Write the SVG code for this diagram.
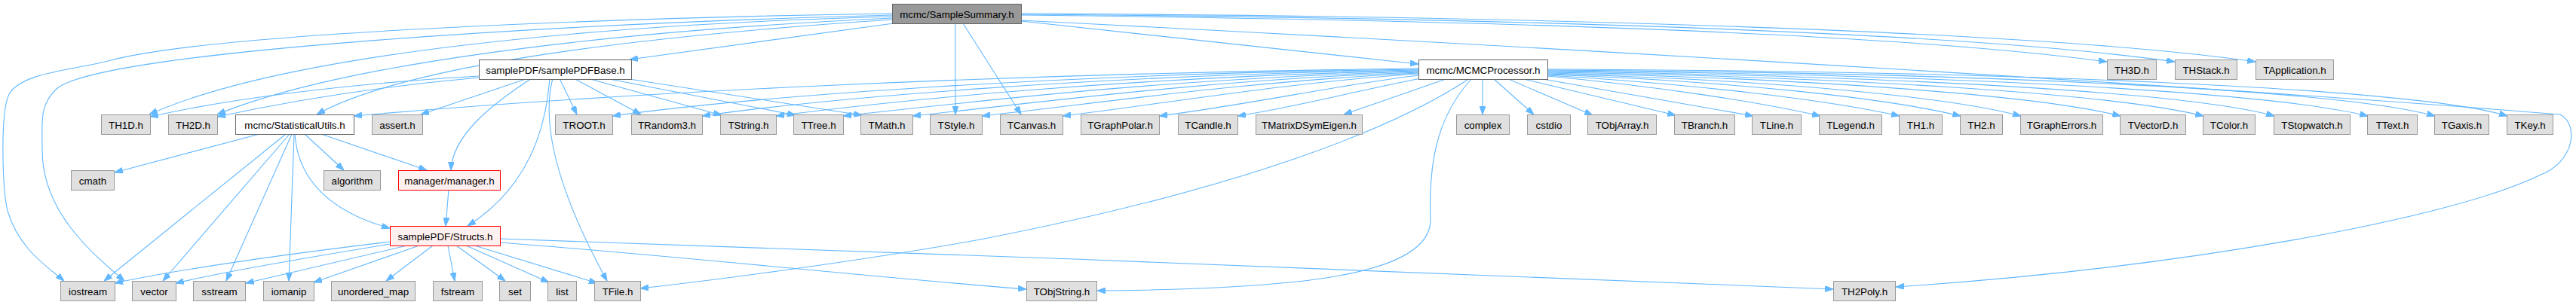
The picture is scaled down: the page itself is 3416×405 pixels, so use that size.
<svg xmlns="http://www.w3.org/2000/svg" width="3416" height="405" viewBox="0 0 3416 405">
<style>
rect{stroke-width:1}
.g rect{fill:#e0e0e0;stroke:#999999}
.w rect{fill:#ffffff;stroke:#666666}
.r rect{fill:#fff0f0;stroke:#ff0000}
.root rect{fill:#999999;stroke:#666666}
text{font-family:"Liberation Sans",Arial,Helvetica,sans-serif;font-size:13.33px;text-anchor:middle;fill:#000000}
#edges path{fill:none;stroke:#63b8ff;stroke-width:1.1;marker-end:url(#a)}
</style>
<defs>
<marker id="a" viewBox="0 0 11 8" markerWidth="11" markerHeight="8" refX="11" refY="4" orient="auto" markerUnits="userSpaceOnUse">
<path d="M0,0 L11,4 L0,8 Z" fill="#63b8ff" stroke="#63b8ff" stroke-width="1"/>
</marker>
</defs>
<rect x="0" y="0" width="3416" height="405" fill="#ffffff"/>
<g id="edges">
<!-- SampleSummary -->
<path d="M1183,18 C900,22 300,40 147,80 C100,93 30,95 12,125 C0,150 3,250 10,280 C25,330 60,352 85,373"/>
<path d="M1183,20 C700,33 130,70 75,118 C52,140 56,160 56,200 C56,280 120,335 165,373"/>
<path d="M1183,22 C800,32 380,70 198,152"/>
<path d="M1183,24 C800,42 450,85 288,152"/>
<path d="M1183,26 C850,48 540,85 420,152"/>
<path d="M1185,31 L835,79"/>
<path d="M1267,31 L1267,152"/>
<path d="M1277,31 L1354,152"/>
<path d="M1354,28 L1881,85"/>
<path d="M1354,20 C1900,26 2500,42 2794,82"/>
<path d="M1354,19 C2000,24 2600,42 2884,82"/>
<path d="M1354,18 C2000,21 2700,40 2991,82"/>
<path d="M1354,27 C2200,70 3000,120 3395,152 C3420,165 3415,215 3367,233 C3250,290 2900,355 2514,381"/>
<!-- samplePDFBase -->
<path d="M635,101 C450,112 300,132 199,155"/>
<path d="M635,103 C500,115 380,135 288,155"/>
<path d="M700,104 L558,152"/>
<path d="M705,104 C650,140 600,180 598,226"/>
<path d="M729,104 C722,200 680,262 620,300"/>
<path d="M733,104 C712,185 765,300 805,373"/>
<path d="M742,104 L765,152"/>
<path d="M761,104 L850,152"/>
<path d="M779,104 L957,153"/>
<path d="M803,104 L1055,153"/>
<path d="M828,104 L1143,153"/>
<!-- MCMCProcessor left -->
<path d="M1881,91 C1300,98 800,125 469,154"/>
<path d="M1881,92 C1400,98 1000,128 812,154"/>
<path d="M1881,93 C1450,100 1100,130 931,154"/>
<path d="M1881,94 C1500,102 1200,132 1029,154"/>
<path d="M1881,95 C1550,104 1300,134 1118,154"/>
<path d="M1881,96 C1600,106 1380,136 1210,154"/>
<path d="M1881,97 C1650,108 1450,138 1302,154"/>
<path d="M1881,98 C1700,110 1530,140 1409,154"/>
<path d="M1881,100 C1780,112 1650,140 1537,154"/>
<path d="M1885,104 C1800,120 1720,142 1641,154"/>
<path d="M1920,104 L1782,152"/>
<path d="M1949,104 C1850,170 1650,250 1300,318 C1150,345 950,372 849,383"/>
<path d="M1952,104 C1900,160 1895,230 1897,290 C1900,370 1700,384 1455,386"/>
<!-- MCMCProcessor right -->
<path d="M1966,104 L1966,152"/>
<path d="M1980,104 L2034,152"/>
<path d="M1998,104 L2112,153"/>
<path d="M2016,104 L2222,153"/>
<path d="M2040,104 L2325,154"/>
<path d="M2052,101 C2200,115 2330,135 2414,154"/>
<path d="M2052,100 C2250,112 2420,132 2519,154"/>
<path d="M2052,99 C2300,108 2500,130 2600,154"/>
<path d="M2052,98 C2350,106 2580,128 2680,154"/>
<path d="M2052,97 C2400,104 2700,126 2812,154"/>
<path d="M2052,96 C2450,102 2800,124 2922,154"/>
<path d="M2052,95 C2500,100 2900,122 3016,154"/>
<path d="M2052,94 C2550,98 3000,120 3140,154"/>
<path d="M2052,93 C2600,96 3100,118 3229,154"/>
<path d="M2052,92 C2650,94 3200,116 3325,154"/>
<!-- StatisticalUtils -->
<path d="M344,178 L152,229"/>
<path d="M404,178 L456,226"/>
<path d="M426,178 L566,226"/>
<path d="M391,178 C395,240 440,282 517,303"/>
<path d="M379,178 L138,373"/>
<path d="M384,178 L216,373"/>
<path d="M387,178 L300,373"/>
<path d="M390,178 L383,373"/>
<!-- manager -->
<path d="M595,252 L591,300"/>
<!-- Structs -->
<path d="M517,321 C400,335 250,355 152,376"/>
<path d="M518,324 C420,340 300,360 233,376"/>
<path d="M540,326 L326,376"/>
<path d="M556,326 L416,375"/>
<path d="M574,326 L512,373"/>
<path d="M594,326 L603,373"/>
<path d="M605,326 L670,373"/>
<path d="M618,326 L728,375"/>
<path d="M629,326 L792,376"/>
<path d="M663,322 C900,340 1200,372 1361,384"/>
<path d="M663,317 C1200,335 2000,365 2431,384"/>
</g>
<g id="n_S" class="root"><rect x="1183.5" y="5.5" width="171" height="26"/><text x="1269" y="23.5">mcmc/SampleSummary.h</text></g>
<g id="n_P" class="w"><rect x="635.5" y="79.5" width="202" height="26"/><text x="736.5" y="97.5">samplePDF/samplePDFBase.h</text></g>
<g id="n_M" class="w"><rect x="1881.5" y="79.5" width="171" height="26"/><text x="1967" y="97.5">mcmc/MCMCProcessor.h</text></g>
<g id="n_TH3D" class="g"><rect x="2794.5" y="79.5" width="65" height="26"/><text x="2827" y="97.5">TH3D.h</text></g>
<g id="n_THStack" class="g"><rect x="2884.5" y="79.5" width="82" height="26"/><text x="2925.5" y="97.5">THStack.h</text></g>
<g id="n_TApplication" class="g"><rect x="2991.5" y="79.5" width="103" height="26"/><text x="3043" y="97.5">TApplication.h</text></g>
<g id="n_TH1D" class="g"><rect x="134.5" y="152.5" width="65" height="26"/><text x="167" y="170.5">TH1D.h</text></g>
<g id="n_TH2D" class="g"><rect x="223.5" y="152.5" width="65" height="26"/><text x="256" y="170.5">TH2D.h</text></g>
<g id="n_U" class="w"><rect x="312.5" y="152.5" width="157" height="26"/><text x="391" y="170.5">mcmc/StatisticalUtils.h</text></g>
<g id="n_assert" class="g"><rect x="493.5" y="152.5" width="67" height="26"/><text x="527" y="170.5">assert.h</text></g>
<g id="n_TROOT" class="g"><rect x="736.5" y="152.5" width="76" height="26"/><text x="774.5" y="170.5">TROOT.h</text></g>
<g id="n_TRandom3" class="g"><rect x="837.5" y="152.5" width="94" height="26"/><text x="884.5" y="170.5">TRandom3.h</text></g>
<g id="n_TString" class="g"><rect x="955.5" y="152.5" width="74" height="26"/><text x="992.5" y="170.5">TString.h</text></g>
<g id="n_TTree" class="g"><rect x="1052.5" y="152.5" width="66" height="26"/><text x="1085.5" y="170.5">TTree.h</text></g>
<g id="n_TMath" class="g"><rect x="1141.5" y="152.5" width="69" height="26"/><text x="1176" y="170.5">TMath.h</text></g>
<g id="n_TStyle" class="g"><rect x="1233.5" y="152.5" width="69" height="26"/><text x="1268" y="170.5">TStyle.h</text></g>
<g id="n_TCanvas" class="g"><rect x="1326.5" y="152.5" width="83" height="26"/><text x="1368" y="170.5">TCanvas.h</text></g>
<g id="n_TGraphPolar" class="g"><rect x="1433.5" y="152.5" width="104" height="26"/><text x="1485.5" y="170.5">TGraphPolar.h</text></g>
<g id="n_TCandle" class="g"><rect x="1562.5" y="152.5" width="79" height="26"/><text x="1602" y="170.5">TCandle.h</text></g>
<g id="n_TMatrixDSymEigen" class="g"><rect x="1665.5" y="152.5" width="141" height="26"/><text x="1736" y="170.5">TMatrixDSymEigen.h</text></g>
<g id="n_complex" class="g"><rect x="1931.5" y="152.5" width="70" height="26"/><text x="1966.5" y="170.5">complex</text></g>
<g id="n_cstdio" class="g"><rect x="2025.5" y="152.5" width="57" height="26"/><text x="2054" y="170.5">cstdio</text></g>
<g id="n_TObjArray" class="g"><rect x="2105.5" y="152.5" width="91" height="26"/><text x="2151" y="170.5">TObjArray.h</text></g>
<g id="n_TBranch" class="g"><rect x="2220.5" y="152.5" width="80" height="26"/><text x="2260.5" y="170.5">TBranch.h</text></g>
<g id="n_TLine" class="g"><rect x="2323.5" y="152.5" width="65" height="26"/><text x="2356" y="170.5">TLine.h</text></g>
<g id="n_TLegend" class="g"><rect x="2412.5" y="152.5" width="83" height="26"/><text x="2454" y="170.5">TLegend.h</text></g>
<g id="n_TH1" class="g"><rect x="2518.5" y="152.5" width="57" height="26"/><text x="2547" y="170.5">TH1.h</text></g>
<g id="n_TH2" class="g"><rect x="2599.5" y="152.5" width="56" height="26"/><text x="2627.5" y="170.5">TH2.h</text></g>
<g id="n_TGraphErrors" class="g"><rect x="2679.5" y="152.5" width="109" height="26"/><text x="2734" y="170.5">TGraphErrors.h</text></g>
<g id="n_TVectorD" class="g"><rect x="2811.5" y="152.5" width="87" height="26"/><text x="2855" y="170.5">TVectorD.h</text></g>
<g id="n_TColor" class="g"><rect x="2921.5" y="152.5" width="69" height="26"/><text x="2956" y="170.5">TColor.h</text></g>
<g id="n_TStopwatch" class="g"><rect x="3015.5" y="152.5" width="101" height="26"/><text x="3066" y="170.5">TStopwatch.h</text></g>
<g id="n_TText" class="g"><rect x="3139.5" y="152.5" width="66" height="26"/><text x="3172.5" y="170.5">TText.h</text></g>
<g id="n_TGaxis" class="g"><rect x="3228.5" y="152.5" width="72" height="26"/><text x="3264.5" y="170.5">TGaxis.h</text></g>
<g id="n_TKey" class="g"><rect x="3324.5" y="152.5" width="61" height="26"/><text x="3355" y="170.5">TKey.h</text></g>
<g id="n_cmath" class="g"><rect x="94.5" y="226.5" width="57" height="26"/><text x="123" y="244.5">cmath</text></g>
<g id="n_algorithm" class="g"><rect x="429.5" y="226.5" width="75" height="26"/><text x="467" y="244.5">algorithm</text></g>
<g id="n_manager" class="r"><rect x="528.5" y="226.5" width="135" height="26"/><text x="596" y="244.5">manager/manager.h</text></g>
<g id="n_Structs" class="r"><rect x="517.5" y="300.5" width="146" height="26"/><text x="590.5" y="318.5">samplePDF/Structs.h</text></g>
<g id="n_iostream" class="g"><rect x="80.5" y="373.5" width="72" height="26"/><text x="116.5" y="391.5">iostream</text></g>
<g id="n_vector" class="g"><rect x="175.5" y="373.5" width="58" height="26"/><text x="204.5" y="391.5">vector</text></g>
<g id="n_sstream" class="g"><rect x="256.5" y="373.5" width="69" height="26"/><text x="291" y="391.5">sstream</text></g>
<g id="n_iomanip" class="g"><rect x="349.5" y="373.5" width="67" height="26"/><text x="383" y="391.5">iomanip</text></g>
<g id="n_unordered_map" class="g"><rect x="439.5" y="373.5" width="111" height="26"/><text x="495" y="391.5">unordered_map</text></g>
<g id="n_fstream" class="g"><rect x="574.5" y="373.5" width="65" height="26"/><text x="607" y="391.5">fstream</text></g>
<g id="n_set" class="g"><rect x="662.5" y="373.5" width="41" height="26"/><text x="683" y="391.5">set</text></g>
<g id="n_list" class="g"><rect x="726.5" y="373.5" width="38" height="26"/><text x="745.5" y="391.5">list</text></g>
<g id="n_TFile" class="g"><rect x="788.5" y="373.5" width="61" height="26"/><text x="819" y="391.5">TFile.h</text></g>
<g id="n_TObjString" class="g"><rect x="1361.5" y="373.5" width="93" height="26"/><text x="1408" y="391.5">TObjString.h</text></g>
<g id="n_TH2Poly" class="g"><rect x="2431.5" y="373.5" width="82" height="26"/><text x="2472.5" y="391.5">TH2Poly.h</text></g>
</svg>
